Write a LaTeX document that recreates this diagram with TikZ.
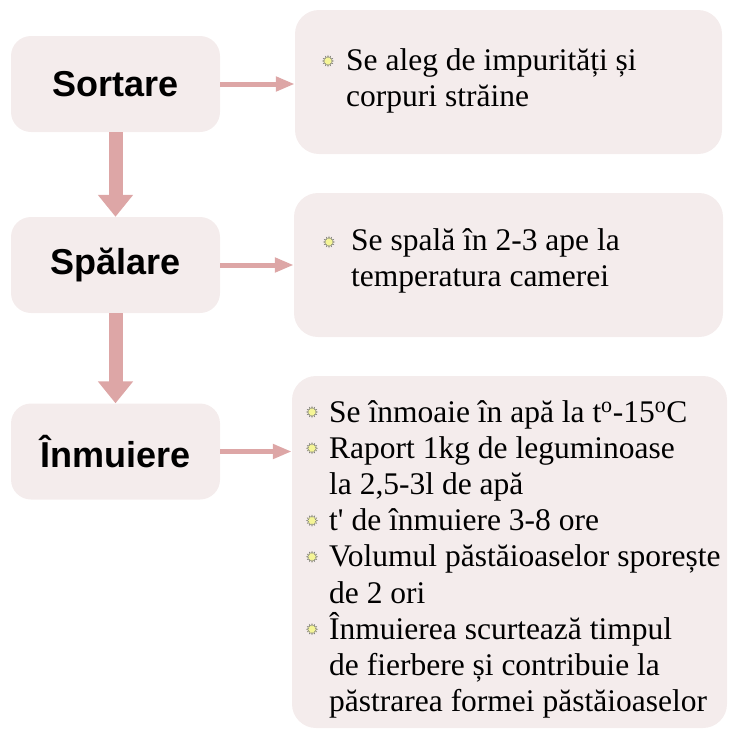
\documentclass[tikz,border=0pt]{standalone}
\usepackage{fontspec}
\setmainfont{Liberation Serif}
\setsansfont{Liberation Sans}
\newfontfamily\bodyserif{Liberation Serif}
\usetikzlibrary{arrows.meta,shapes.geometric}
\definecolor{boxfill}{RGB}{244,236,236}
\definecolor{arrowpink}{RGB}{221,166,166}
\definecolor{sunfill}{RGB}{245,245,150}

\begin{document}
\begin{tikzpicture}[x=1pt,y=-1pt,
    stepname/.style={fill=boxfill,rounded corners=20pt,minimum width=209pt,minimum height=96pt,
      font=\sffamily\bfseries\fontsize{36}{40}\selectfont},
    detail/.style={fill=boxfill,rounded corners=24pt},
    line/.style={anchor=base west,inner sep=0pt,font=\bodyserif\fontsize{31.5}{36}\selectfont},
    sun/.style={star,star points=12,star point ratio=1.6,minimum size=11pt,inner sep=0pt,
      fill=sunfill,draw=gray,line width=0.4pt},
    downarrow/.style={draw=arrowpink,line width=14pt,-{Triangle[width=34pt,length=22pt,fill=arrowpink]}},
    sidearrow/.style={draw=arrowpink,line width=5pt,-{Triangle[width=14pt,length=19pt,fill=arrowpink]}}]
              \useasboundingbox (0,0) rectangle (729,729);
              %\draw[help lines,step=50] (0,0) grid (729,729);

              % right hand boxes
              \draw (508.5,82) node[detail,minimum width=427pt,minimum height=144pt] (d1) {};
              \draw (508.5,265) node[detail,minimum width=429pt,minimum height=144pt] (d2) {};
              \draw (509.5,552) node[detail,minimum width=435pt,minimum height=352pt] (d3) {};

              % steps
              \draw (115.5,84) node[stepname] (sort) {Sortare};
              \draw (115.5,265) node[stepname] (spal) {Spălare};
              \draw (115.5,451.5) node[stepname] (inm) {Înmuiere};

              \draw[downarrow] (sort.south)--(spal.north);
              \draw[downarrow] (spal.south)--(inm.north);

              \draw[sidearrow] (sort.east)--(sort.east -| d1.west);
              \draw[sidearrow] (spal.east)--(spal.east -| d2.west);
              \draw[sidearrow] (inm.east)--(inm.east -| d3.west);

              % text of box 1
              \draw (328,61) node[sun] (s1) {};
              \draw (346,70) node[line] (t11) {Se aleg de impurități și};
              \draw (346,106) node[line] (t12) {corpuri străine};

              % text of box 2
              \draw (329,242) node[sun] (s2) {};
              \draw (351,250) node[line] (t21) {Se spală în 2-3 ape la};
              \draw (351,286) node[line] (t22) {temperatura camerei};

              % text of box 3
              \foreach \y in {0,1,3,4,6}
                \draw (312,412+36.2*\y) node[sun] {};
              \draw (329,422) node[line] (t31) {Se înmoaie în apă la t\textsuperscript{o}-15\textsuperscript{o}C};
              \draw (329,458.2) node[line] (t32) {Raport 1kg de leguminoase};
              \draw (329,494.4) node[line] (t33) {la 2,5-3l de apă};
              \draw (329,530.6) node[line] (t34) {t\textquotesingle{} de înmuiere 3-8 ore};
              \draw (329,566.8) node[line] (t35) {Volumul păstăioaselor sporește};
              \draw (329,603) node[line] (t36) {de 2 ori};
              \draw (329,639.2) node[line] (t37) {Înmuierea scurtează timpul};
              \draw (329,675.4) node[line] (t38) {de fierbere și contribuie la};
              \draw (329,711.6) node[line] (t39) {păstrarea formei păstăioaselor};
            \end{tikzpicture}
\end{document}
